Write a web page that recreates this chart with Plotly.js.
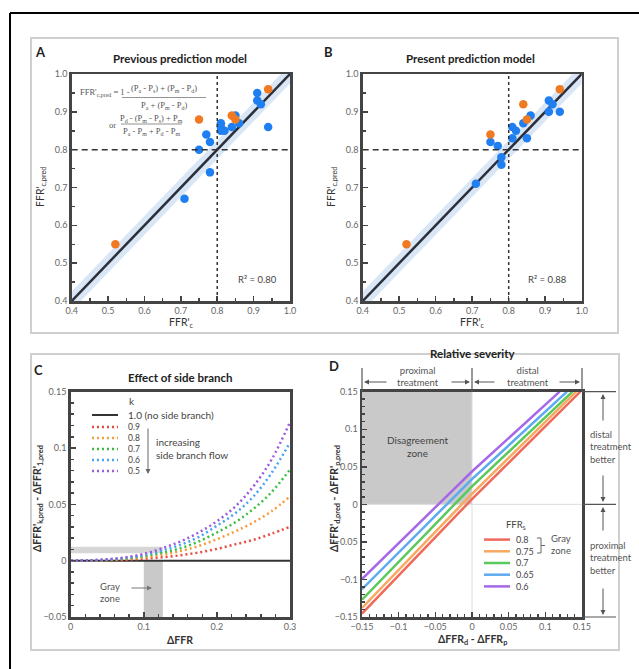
<!DOCTYPE html>
<html>
<head>
<meta charset="utf-8">
<script src="https://cdn.plot.ly/plotly-3.0.1.min.js"></script>
<style>html,body{margin:0;padding:0;background:#fff;}#chart{width:639px;height:669px;}</style>
</head>
<body>
<div id="chart"></div>
<script>
// ---------- DATA ----------
// Panel A (previous model): FFR'_c vs FFR'_c,pred
const prevBlueX = [0.71,0.75,0.77,0.78,0.78,0.81,0.81,0.81,0.82,0.84,0.85,0.86,0.91,0.91,0.92,0.94];
const prevBlueY = [0.67,0.80,0.84,0.82,0.74,0.87,0.86,0.85,0.85,0.86,0.89,0.87,0.95,0.93,0.92,0.86];
const prevOrangeX = [0.52,0.75,0.84,0.85,0.94];
const prevOrangeY = [0.55,0.88,0.89,0.88,0.96];
// Panel B (present model)
const presBlueX = [0.71,0.75,0.77,0.78,0.78,0.81,0.81,0.82,0.85,0.84,0.86,0.91,0.91,0.92,0.94];
const presBlueY = [0.71,0.82,0.81,0.78,0.76,0.83,0.86,0.85,0.83,0.87,0.89,0.93,0.90,0.92,0.90];
const presOrangeX = [0.52,0.75,0.84,0.85,0.94];
const presOrangeY = [0.55,0.84,0.92,0.88,0.96];
const identityX = [0.4, 1.0];
const bandHalfWidth = 0.025;
const cutoff = 0.8;
const r2Labels = ["R² = 0.80", "R² = 0.88"];

// Panel C: effect of side branch
const dffrX = [0,0.025,0.05,0.075,0.1,0.125,0.15,0.175,0.2,0.225,0.25,0.275,0.3];
const kLabels = ["1.0 (no side branch)","0.9","0.8","0.7","0.6","0.5"];
const k10 = [0,0,0,0,0,0,0,0,0,0,0,0,0];
const k09 = [0,0.0001,0.0003,0.0008,0.0018,0.003,0.0048,0.0072,0.0105,0.0145,0.0185,0.024,0.030];
const k08 = [0,0.0001,0.0006,0.0015,0.003,0.0052,0.0085,0.013,0.019,0.026,0.034,0.044,0.057];
const k07 = [0,0.0002,0.0008,0.002,0.004,0.007,0.011,0.017,0.025,0.034,0.046,0.061,0.081];
const k06 = [0,0.0003,0.001,0.0025,0.005,0.009,0.014,0.021,0.031,0.042,0.057,0.078,0.105];
const k05 = [0,0.0003,0.0012,0.003,0.006,0.011,0.017,0.025,0.035,0.048,0.066,0.090,0.123];
const grayZoneDFFR = [0.1, 0.126];
const grayBandY = [0.0066, 0.0124];

// Panel D: relative severity
const ffrsLabels = ["0.8","0.75","0.7","0.65","0.6"];
const sevX = [[-0.15,0,0.1477],[-0.15,0,0.142],[-0.15,0,0.137],[-0.15,0,0.1295],[-0.15,0,0.1195]];
const sevY = [[-0.1455,0.007,0.15],[-0.138,0.014,0.15],[-0.127,0.024,0.15],[-0.113,0.0335,0.15],[-0.0994,0.0437,0.15]];

// ---------- STYLE ----------
const W = 639, H = 669;
const px = x => x / W, py = y => 1 - y / H;
const FONT = "Lato, 'Open Sans', sans-serif";
const cDot = ['#e84a3f','#f89b3c','#3dbd3d','#47a3f3','#9a5ce0'];
const cSol = ['#f06a5a','#f9a85f','#59c95b','#5eaaf0','#a768e8'];
const blue = '#1f7ff0', orange = '#f07a22';

function axisBase(extra){
  return Object.assign({
    showline:true, mirror:true, linecolor:'#444', linewidth:2.5,
    ticks:'inside', ticklen:5, tickwidth:1.5, tickcolor:'#444',
    showgrid:false, zeroline:false, fixedrange:true,
    tickfont:{family:FONT, size:9, color:'#666'}
  }, extra);
}

const traces = [];
// Panels A and B
function scatterPanel(xa, ya, bx, by, ox, oy){
  traces.push({x:[0.4,1,1,0.4], y:[0.4-bandHalfWidth,1-bandHalfWidth,1+bandHalfWidth,0.4+bandHalfWidth],
    fill:'toself', fillcolor:'rgba(170,200,235,0.45)', line:{width:0}, mode:'lines', xaxis:xa, yaxis:ya, hoverinfo:'skip'});
  traces.push({x:identityX, y:identityX, mode:'lines', line:{color:'#2a2f3a', width:2.5}, xaxis:xa, yaxis:ya});
  traces.push({x:bx, y:by, mode:'markers', marker:{color:blue, size:8.5}, xaxis:xa, yaxis:ya});
  traces.push({x:ox, y:oy, mode:'markers', marker:{color:orange, size:8.5}, xaxis:xa, yaxis:ya});
}
scatterPanel('x','y', prevBlueX, prevBlueY, prevOrangeX, prevOrangeY);
scatterPanel('x2','y2', presBlueX, presBlueY, presOrangeX, presOrangeY);

// Panel C
traces.push({x:dffrX, y:k10, mode:'lines', line:{color:'#333', width:2}, xaxis:'x3', yaxis:'y3'});
[k09,k08,k07,k06,k05].forEach((ys,i)=>{
  traces.push({x:dffrX, y:ys, mode:'lines', line:{color:cDot[i], width:2.5, dash:'2px,3px', shape:'spline'}, xaxis:'x3', yaxis:'y3'});
});
// Panel D
sevX.forEach((xs,i)=>{
  traces.push({x:xs, y:sevY[i], mode:'lines', line:{color:cSol[i], width:2.5}, xaxis:'x4', yaxis:'y4'});
});

const shapes = [];
const annotations = [];
function line(x0,y0,x1,y1,color,width,dash){
  shapes.push({type:'line', xref:'paper', yref:'paper', x0:px(x0), y0:py(y0), x1:px(x1), y1:py(y1),
    line:{color:color, width:width, dash:dash||'solid'}});
}
function text(x,y,t,opts){
  annotations.push(Object.assign({xref:'paper', yref:'paper', x:px(x), y:py(y), text:t, showarrow:false,
    xanchor:'center', yanchor:'middle', font:{family:FONT, size:10, color:'#444'}}, opts||{}));
}
function arrow(x,y,fromX,fromY,color){
  annotations.push({xref:'paper', yref:'paper', x:px(x), y:py(y), ax:fromX-x, ay:fromY-y, text:'',
    showarrow:true, arrowhead:2, arrowsize:1, arrowwidth:1, arrowcolor:color||'#555'});
}

// Outer frame and boxes
line(10,13,10,669,'#000',2);
line(10,13,639,13,'#000',2);
shapes.push({type:'rect', xref:'paper', yref:'paper', x0:px(31), y0:py(333), x1:px(618), y1:py(38), line:{color:'#cfcfcf', width:2}});
shapes.push({type:'rect', xref:'paper', yref:'paper', x0:px(31), y0:py(650), x1:px(619), y1:py(354), line:{color:'#cfcfcf', width:2}});

// Cutoff dashed lines A/B
[['x','y'],['x2','y2']].forEach(([xa,ya])=>{
  shapes.push({type:'line', xref:xa, yref:ya, x0:cutoff, x1:cutoff, y0:0.4, y1:1.0, line:{color:'#333', width:1.5, dash:'3px,3px'}});
  shapes.push({type:'line', xref:xa, yref:ya, x0:0.4, x1:1.0, y0:cutoff, y1:cutoff, line:{color:'#333', width:1.5, dash:'6px,4px'}});
});

// Panel C gray zones
shapes.push({type:'rect', xref:'x3', yref:'y3', x0:grayZoneDFFR[0], x1:grayZoneDFFR[1], y0:-0.05, y1:0, fillcolor:'#c9c9c9', line:{width:0}, layer:'below'});
shapes.push({type:'rect', xref:'x3', yref:'y3', x0:0, x1:grayZoneDFFR[1], y0:grayBandY[0], y1:grayBandY[1], fillcolor:'#d6d6d6', line:{width:0}, layer:'below'});

// Panel D disagreement zone and reference lines
shapes.push({type:'rect', xref:'x4', yref:'y4', x0:-0.15, x1:0, y0:0, y1:0.15, fillcolor:'#c9c9c9', line:{width:0}, layer:'below'});
shapes.push({type:'line', xref:'x4', yref:'y4', x0:0, x1:0, y0:-0.15, y1:0.15, line:{color:'#dcdcdc', width:1}, layer:'below'});
shapes.push({type:'line', xref:'x4', yref:'y4', x0:-0.15, x1:0.15, y0:0, y1:0, line:{color:'#dcdcdc', width:1}, layer:'below'});

// Panel D header lines/arrows
[362,472,582].forEach(x=>line(x,368,x,392,'#555',1.2));
arrow(364,382,388,382); arrow(470,382,450,382);
arrow(474,382,496,382); arrow(580,382,558,382);
text(418,376,'proximal<br>treatment',{font:{family:FONT,size:9.5,color:'#555'}});
text(528,376,'distal<br>treatment',{font:{family:FONT,size:9.5,color:'#555'}});
// right side
[391.7,504.3,617].forEach(y=>line(582,y,616,y,'#555',1.2));
arrow(603,394,603,422); arrow(603,502,603,474);
arrow(603,507,603,532); arrow(603,615,603,587);
text(588,447,'distal<br>treatment<br>better',{xanchor:'left', align:'left', font:{family:FONT,size:9.5,color:'#555'}});
text(588,558,'proximal<br>treatment<br>better',{xanchor:'left', align:'left', font:{family:FONT,size:9.5,color:'#555'}});
text(417,446,'Disagreement<br>zone',{font:{family:FONT,size:10,color:'#444'}});

// Panel D legend
text(516,525,'FFR<sub>s</sub>',{font:{family:FONT,size:9.5,color:'#444'}});
const dLegY = [539.6,551.3,563,574.7,586.4];
dLegY.forEach((y,i)=> line(484,y,510,y,cSol[i],2.5));
text(514,563,ffrsLabels.join('<br>'),{xanchor:'left', align:'left', font:{family:FONT,size:9,color:'#444'}});
shapes.push({type:'path', xref:'paper', yref:'paper',
  path:`M${px(537)},${py(538)} L${px(541)},${py(538)} L${px(541)},${py(553)} L${px(537)},${py(553)} M${px(541)},${py(545.5)} L${px(545)},${py(545.5)}`,
  line:{color:'#666', width:1}});
text(549,544,'Gray<br>zone',{xanchor:'left', align:'left', font:{family:FONT,size:9.5,color:'#555'}});

// Panel C legend
text(132,401,'k',{font:{family:FONT,size:10,color:'#444'}});
line(92,415,118,415,'#333',2);
text(126,415,kLabels[0],{xanchor:'left', font:{family:FONT,size:10,color:'#444'}});
const cLegY = [427,438,449,460,471];
cLegY.forEach((y,i)=> line(92,y,118,y,cDot[i],2.5,'2px,3px'));
text(126,449,kLabels.slice(1).join('<br>'),{xanchor:'left', align:'left', font:{family:FONT,size:8.5,color:'#444'}});
arrow(148,474,148,427,'#666');
text(154,448,'increasing<br>side branch flow',{xanchor:'left', align:'left', font:{family:FONT,size:10,color:'#444'}});
text(110,592,'Gray<br>zone',{font:{family:FONT,size:9.5,color:'#555'}});
arrow(152,588,130,588,'#777');

// Panel A equation
const serif = "'Liberation Serif', 'DejaVu Serif', serif";
text(78,93,"FFR'<sub>c,pred</sub> = 1 -",{xanchor:'left', font:{family:serif,size:8.5,color:'#555'}});
text(164,89,"(P<sub>a</sub> - P<sub>s</sub>) + (P<sub>m</sub> - P<sub>d</sub>)",{font:{family:serif,size:8.5,color:'#555'}});
line(122,97.5,206,97.5,'#777',0.8);
text(164,105,"P<sub>a</sub> + (P<sub>m</sub> - P<sub>d</sub>)",{font:{family:serif,size:8.5,color:'#555'}});
text(112,125,"or",{font:{family:serif,size:8.5,color:'#555'}});
text(151,118,"P<sub>d</sub> - (P<sub>m</sub> - P<sub>s</sub>) + P<sub>m</sub>",{font:{family:serif,size:8.5,color:'#555'}});
line(121,124,182,124,'#777',0.8);
text(151,131,"P<sub>a</sub> - P<sub>m</sub> + P<sub>d</sub> - P<sub>m</sub>",{font:{family:serif,size:8.5,color:'#555'}});

// R² labels
text(257,279,r2Labels[0],{font:{family:FONT,size:9.5,color:'#444'}});
text(547,279,r2Labels[1],{font:{family:FONT,size:9.5,color:'#444'}});

// Titles, panel letters, axis titles
const tFont = {family:FONT, size:11.5, color:'#222', weight:'bold'};
text(180,59,'<b>Previous prediction model</b>',{font:tFont});
text(470,59,'<b>Present prediction model</b>',{font:tFont});
text(180,377,'<b>Effect of side branch</b>',{font:tFont});
text(473,353,'<b>Relative severity</b>',{font:tFont});
const lFont = {family:FONT, size:13, color:'#222'};
text(40,52,'<b>A</b>',{font:lFont});
text(328,52,'<b>B</b>',{font:lFont});
text(38,370,'<b>C</b>',{font:lFont});
text(334,366,'<b>D</b>',{font:lFont});
const axFont = {family:FONT, size:10.5, color:'#333'};
text(181,323,"FFR'<sub>c</sub>",{font:axFont});
text(472,323,"FFR'<sub>c</sub>",{font:axFont});
text(41,187,"FFR'<sub>c,pred</sub>",{textangle:-90,font:axFont});
text(332,187,"FFR'<sub>c,pred</sub>",{textangle:-90,font:axFont});
text(180,640,"<b>ΔFFR</b>",{font:axFont});
text(472,640,"<b>ΔFFR<sub>d</sub> - ΔFFR<sub>p</sub></b>",{font:axFont});
text(38,499,"<b>ΔFFR'<sub>k,pred</sub> - ΔFFR'<sub>1,pred</sub></b>",{textangle:-90,font:axFont});
text(335,499,"<b>ΔFFR'<sub>d,pred</sub> - ΔFFR'<sub>p,pred</sub></b>",{textangle:-90,font:axFont});

const abX = d => axisBase({domain:d, range:[0.4,1.0], tick0:0.4, dtick:0.1, tickformat:'.1f',
  minor:{dtick:0.05, tick0:0.4, ticks:'inside', ticklen:3, tickcolor:'#444', showgrid:false}});
const layout = {
  width:W, height:H, margin:{l:0,r:0,t:0,b:0}, paper_bgcolor:'#fff', plot_bgcolor:'rgba(0,0,0,0)',
  showlegend:false, font:{family:FONT},
  xaxis: Object.assign(abX([px(71.7),px(290)]), {anchor:'y'}),
  yaxis: Object.assign(abX([py(301),py(74)]), {anchor:'x'}),
  xaxis2: Object.assign(abX([px(362.7),px(581.7)]), {anchor:'y2'}),
  yaxis2: Object.assign(abX([py(301),py(74)]), {anchor:'x2'}),
  xaxis3: axisBase({domain:[px(70.7),px(290)], range:[0,0.3], tick0:0, dtick:0.1, anchor:'y3',
    minor:{dtick:0.02, tick0:0, ticks:'inside', ticklen:3, tickcolor:'#444', showgrid:false}}),
  yaxis3: axisBase({domain:[py(617),py(391.7)], range:[-0.05,0.15], tick0:0, dtick:0.05, anchor:'x3',
    minor:{dtick:0.01, tick0:0, ticks:'inside', ticklen:3, tickcolor:'#444', showgrid:false}}),
  xaxis4: axisBase({domain:[px(362),px(582)], range:[-0.15,0.15], tick0:0, dtick:0.05, anchor:'y4',
    minor:{dtick:0.01, tick0:0, ticks:'inside', ticklen:3, tickcolor:'#444', showgrid:false}}),
  yaxis4: axisBase({domain:[py(617),py(391.7)], range:[-0.15,0.15], tick0:0, dtick:0.05, anchor:'x4',
    minor:{dtick:0.01, tick0:0, ticks:'inside', ticklen:3, tickcolor:'#444', showgrid:false}}),
  shapes: shapes,
  annotations: annotations
};
Plotly.newPlot('chart', traces, layout, {staticPlot:true});
</script>
</body>
</html>
